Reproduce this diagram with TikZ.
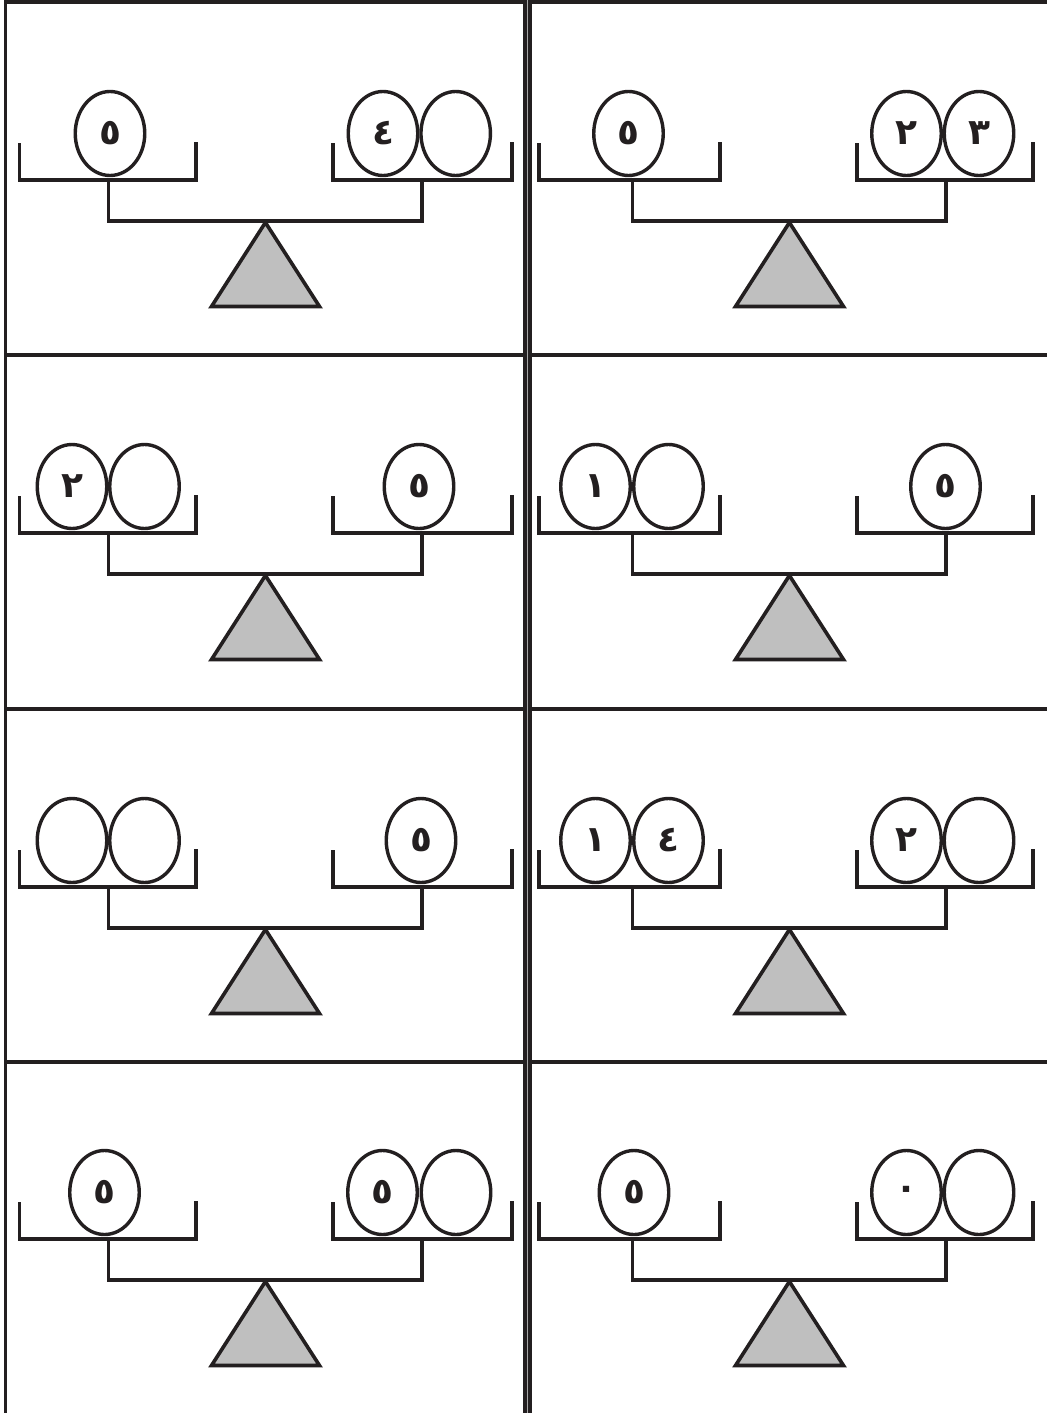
\documentclass[tikz,border=0pt]{standalone}
\usepackage{fontspec}
\newfontfamily\arabicfont[Script=Arabic]{DejaVu Sans}
\usetikzlibrary{shapes.geometric}
\definecolor{ink}{RGB}{35,31,32}
\definecolor{fulcrumgray}{RGB}{191,191,191}
\newcommand\balance[5]{%
  \begin{scope}[shift={(#2,#3)}]
    \coordinate (#1-la) at (#4,143);
    \coordinate (#1-lb) at (#4,180);
    \coordinate (#1-lc) at (196,180);
    \coordinate (#1-ld) at (196,142);
    \coordinate (#1-ra) at (333,143);
    \coordinate (#1-rb) at (333,180);
    \coordinate (#1-rc) at (#5,180);
    \coordinate (#1-rd) at (#5,142);
    \coordinate (#1-pl) at (108.5,180);
    \coordinate (#1-bl) at (108.5,221);
    \coordinate (#1-br) at (422,221);
    \coordinate (#1-pr) at (422,180);
    \coordinate (#1-apex) at (265.4,222.5);
    \coordinate (#1-t1) at (211.5,306.5);
    \coordinate (#1-t2) at (319.5,306.5);
    \draw[partline] (#1-la) -- (#1-lb) -- (#1-lc) -- (#1-ld);
    \draw[partline] (#1-ra) -- (#1-rb) -- (#1-rc) -- (#1-rd);
    \draw[partline] (#1-pl) -- (#1-bl) -- (#1-br) -- (#1-pr);
    \draw[fulcrum] (#1-apex) -- (#1-t1) -- (#1-t2) -- cycle;
  \end{scope}}
\begin{document}
\begin{tikzpicture}[x=1pt,y=-1pt,
  frameline/.style={line width=4pt, draw=ink},
  partline/.style={line width=3.6pt, draw=ink, line join=miter},
  fulcrum/.style={line width=3.6pt, draw=ink, line join=miter, fill=fulcrumgray},
  egg/.style={ellipse, draw=ink, line width=3.4pt, minimum width=69.5pt, minimum height=84pt, inner sep=0pt, text=ink, font=\arabicfont\bfseries\fontsize{36}{36}\selectfont}]
\useasboundingbox (0,0) rectangle (1047,1413);
\fill[white] (0,0) rectangle (1047,1413);
% frame
\coordinate (vl-top) at (5.5,0);
\coordinate (vl-bot) at (5.5,1413);
\coordinate (vm-top) at (527.5,0);
\coordinate (vm-bot) at (527.5,1413);
\coordinate (h0-l) at (5.5,2);
\coordinate (h0-r) at (1047,2);
\coordinate (h1-l) at (5.5,355.3);
\coordinate (h1-r) at (1047,355.3);
\coordinate (h2-l) at (5.5,708.5);
\coordinate (h2-r) at (1047,708.5);
\coordinate (h3-l) at (5.5,1061.5);
\coordinate (h3-r) at (1047,1061.5);
\draw[frameline] (h0-l) -- (h0-r);
\draw[frameline] (h1-l) -- (h1-r);
\draw[frameline] (h2-l) -- (h2-r);
\draw[frameline] (h3-l) -- (h3-r);
\draw[frameline, line width=3.6pt] (vl-top) -- (vl-bot);
\draw[frameline, line width=8.4pt] (vm-top) -- (vm-bot);
\draw[line width=0.8pt, draw=gray!70] (vm-top) -- (vm-bot);
% balances
\balance{b11}{0}{0}{19.3}{512}
\balance{b12}{524}{0}{15}{509}
\balance{b21}{0}{353}{19.3}{512}
\balance{b22}{524}{353}{15}{509}
\balance{b31}{0}{707}{19.3}{512}
\balance{b32}{524}{707}{15}{509}
\balance{b41}{0}{1059}{19.3}{512}
\balance{b42}{524}{1059}{15}{509}
% row 1
\node[egg] (e11a) at (110,133.5) {٥};
\node[egg] (e11b) at (383,133.5) {٤};
\node[egg] (e11c) at (455.7,133.5) {};
\node[egg] (e12a) at (628.5,133.5) {٥};
\node[egg] (e12b) at (906.5,133.5) {٢};
\node[egg] (e12c) at (979,133.5) {٣};
% row 2
\node[egg] (e21a) at (72,486.5) {٢};
\node[egg] (e21b) at (144.5,486.5) {};
\node[egg] (e21c) at (419,486.5) {٥};
\node[egg] (e22a) at (595.5,486.5) {١};
\node[egg] (e22b) at (668.5,486.5) {};
\node[egg] (e22c) at (945.5,486.5) {٥};
% row 3
\node[egg] (e31a) at (72,840.5) {};
\node[egg] (e31b) at (144.5,840.5) {};
\node[egg] (e31c) at (421,840.5) {٥};
\node[egg] (e32a) at (595.5,840.5) {١};
\node[egg] (e32b) at (668.5,840.5) {٤};
\node[egg] (e32c) at (906.5,840.5) {٢};
\node[egg] (e32d) at (979,840.5) {};
% row 4
\node[egg] (e41a) at (104.5,1192.5) {٥};
\node[egg] (e41b) at (382.5,1192.5) {٥};
\node[egg] (e41c) at (456,1192.5) {};
\node[egg] (e42a) at (634,1192.5) {٥};
\node[egg] (e42b) at (906.5,1192.5) {٠};
\node[egg] (e42c) at (979,1192.5) {};
\end{tikzpicture}
\end{document}
